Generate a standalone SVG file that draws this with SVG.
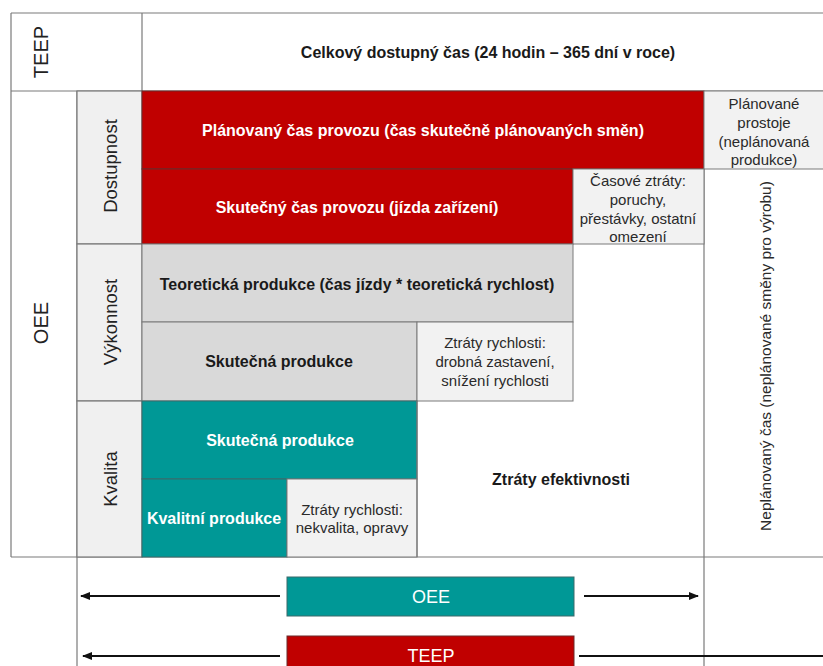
<svg xmlns="http://www.w3.org/2000/svg" width="823" height="666" viewBox="0 0 823 666">
<defs>
<style>
.ln{stroke:#7a7a7a;stroke-width:1.2;fill:none}
.lab{fill:#f0f0f0;stroke:#7a7a7a;stroke-width:1.2}
.red{fill:#c00000;stroke:#6a2a2a;stroke-width:1}
.teal{fill:#009896;stroke:#3a6a6a;stroke-width:1}
.gray{fill:#d9d9d9;stroke:#7a7a7a;stroke-width:1}
.loss{fill:#f2f2f2;stroke:#7a7a7a;stroke-width:1}
text{font-family:"Liberation Sans",Arial,sans-serif;text-anchor:middle;dominant-baseline:central}
.b{font-weight:bold;font-size:16px;fill:#1a1a1a}
.bw{font-weight:bold;font-size:16px;fill:#ffffff}
.s{font-size:15px;fill:#2a2a2a}
.n{font-size:15.5px;fill:#2a2a2a}
.v{font-size:18.5px;fill:#222}
.big{font-size:20px;fill:#222}
.box{font-size:18px;fill:#ffffff}
.arr{stroke:#111;stroke-width:2;fill:none}
</style>
<marker id="ah" viewBox="0 0 10 10" refX="9" refY="5" markerWidth="5" markerHeight="5" orient="auto-start-reverse">
<path d="M0,1 L10,5 L0,9 z" fill="#111"/>
</marker>
</defs>
<rect width="823" height="666" fill="#ffffff"/>

<g id="grid">
<line class="ln" x1="11" y1="13" x2="823" y2="13"/>
<line class="ln" x1="11" y1="13" x2="11" y2="557"/>
<line class="ln" x1="142" y1="13" x2="142" y2="91"/>
<line class="ln" x1="11" y1="91" x2="823" y2="91"/>
<line class="ln" x1="11" y1="557" x2="823" y2="557"/>
<line class="ln" x1="77" y1="91" x2="77" y2="666"/>
<line class="ln" x1="704" y1="91" x2="704" y2="666"/>
</g>

<g id="teep-label"><text class="big" transform="translate(41,52) rotate(-90)">TEEP</text></g>
<g id="oee-label"><text class="big" transform="translate(41,323) rotate(-90)">OEE</text></g>
<g id="total"><text class="b" x="488" y="52">Celkový dostupný čas (24 hodin – 365 dní v roce)</text></g>

<g id="dostupnost"><rect class="lab" x="77" y="91" width="65" height="153"/><text class="v" transform="translate(110,166) rotate(-90)">Dostupnost</text></g>
<g id="vykonnost"><rect class="lab" x="77" y="244" width="65" height="157"/><text class="v" transform="translate(110,322) rotate(-90)">Výkonnost</text></g>
<g id="kvalita"><rect class="lab" x="77" y="401" width="65" height="156"/><text class="v" transform="translate(110,479) rotate(-90)">Kvalita</text></g>

<g id="planovany"><rect class="red" x="142" y="91" width="562" height="78"/><text class="bw" x="423" y="130">Plánovaný čas provozu (čas skutečně plánovaných směn)</text></g>
<g id="planovane-prostoje"><rect class="loss" x="704" y="91" width="125" height="78"/>
<text class="s" x="764" y="103">Plánované</text><text class="s" x="764" y="122">prostoje</text><text class="s" x="764" y="141">(neplánovaná</text><text class="s" x="764" y="159">produkce)</text></g>
<g id="skutecny-cas"><rect class="red" x="142" y="169" width="431" height="75"/><text class="bw" x="357" y="207">Skutečný čas provozu (jízda zařízení)</text></g>
<g id="casove-ztraty"><rect class="loss" x="573" y="169" width="131" height="75"/>
<text class="s" x="638" y="180">Časové ztráty:</text><text class="s" x="638" y="199">poruchy,</text><text class="s" x="638" y="218">přestávky, ostatní</text><text class="s" x="638" y="236">omezení</text></g>

<g id="teoreticka"><rect class="gray" x="142" y="244" width="431" height="78"/><text class="b" x="357" y="284">Teoretická produkce (čas jízdy * teoretická rychlost)</text></g>
<g id="skutecna-gray"><rect class="gray" x="142" y="322" width="275" height="79"/><text class="b" x="279" y="361">Skutečná produkce</text></g>
<g id="ztraty-rychlosti"><rect class="loss" x="417" y="322" width="156" height="79"/>
<text class="s" x="495" y="342">Ztráty rychlosti:</text><text class="s" x="495" y="361">drobná zastavení,</text><text class="s" x="495" y="380">snížení rychlosti</text></g>

<g id="skutecna-teal"><rect class="teal" x="142" y="401" width="275" height="78"/><text class="bw" x="280" y="440">Skutečná produkce</text></g>
<g id="kvalitni"><rect class="teal" x="142" y="479" width="145" height="78"/><text class="bw" x="214" y="518">Kvalitní produkce</text></g>
<g id="ztraty-nekvalita"><rect class="loss" x="287" y="479" width="130" height="78"/>
<text class="s" x="352" y="509">Ztráty rychlosti:</text><text class="s" x="352" y="527">nekvalita, opravy</text></g>
<g id="ztraty-efektivnosti"><line class="ln" x1="417" y1="401" x2="417" y2="557"/><text class="b" x="561" y="479">Ztráty efektivnosti</text></g>
<g id="neplanovany"><text class="n" transform="translate(765,356) rotate(-90)">Neplánovaný čas (neplánované směny pro výrobu)</text></g>

<g id="oee-box"><rect class="teal" x="287" y="577" width="287" height="39"/><text class="box" x="431" y="597">OEE</text></g>
<g id="teep-box"><rect class="red" x="287" y="636" width="287" height="40"/><text class="box" x="431" y="656">TEEP</text></g>

<g id="connectors">
<line class="arr" x1="280" y1="596" x2="81" y2="596" marker-end="url(#ah)"/>
<line class="arr" x1="584" y1="596" x2="698" y2="596" marker-end="url(#ah)"/>
<line class="arr" x1="280" y1="656" x2="83" y2="656" marker-end="url(#ah)"/>
<line class="arr" x1="579" y1="656" x2="823" y2="656"/>
</g>
</svg>
